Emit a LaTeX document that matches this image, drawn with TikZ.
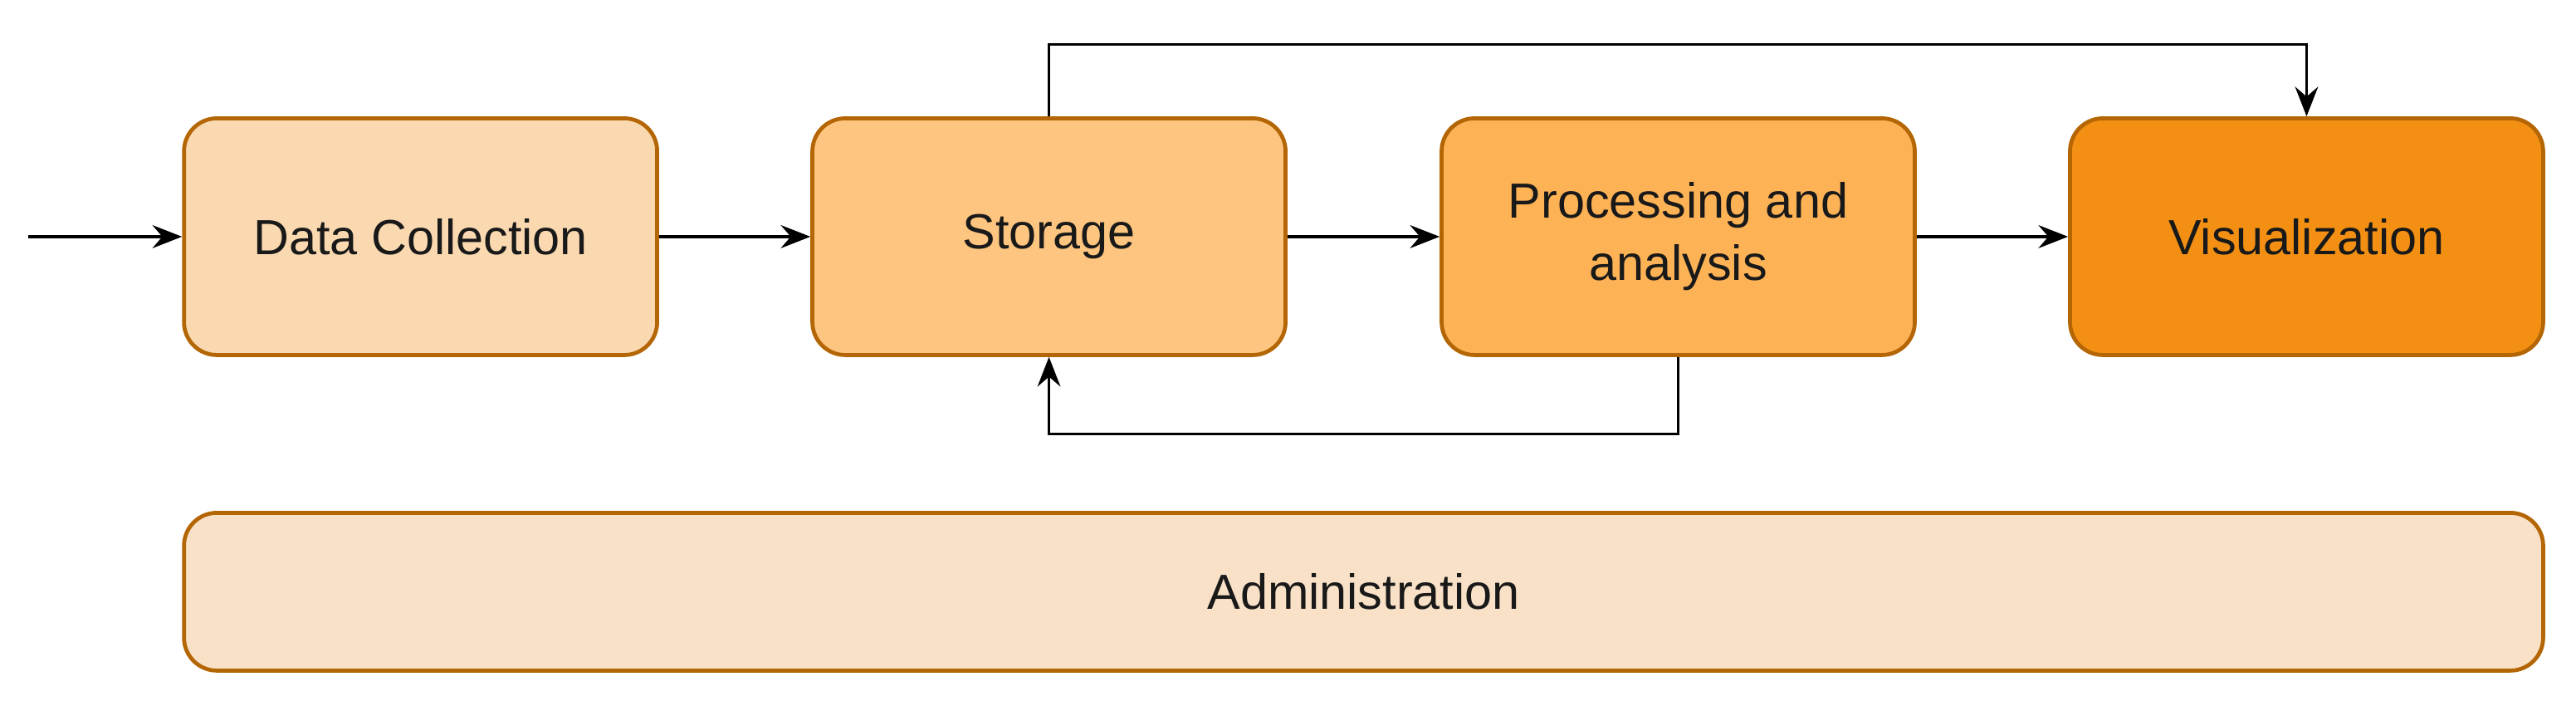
\documentclass[tikz,border=0pt]{standalone}
\usepackage{fontspec}
\setmainfont{Liberation Sans}
\usetikzlibrary{arrows.meta}
\definecolor{bd}{HTML}{B46504}
\definecolor{c1}{HTML}{FAD9B1}
\definecolor{c2}{HTML}{FDC57F}
\definecolor{c3}{HTML}{FDB256}
\definecolor{c4}{HTML}{F39014}
\definecolor{c5}{HTML}{F8E1C6}
\begin{document}
\begin{tikzpicture}[x=0.5pt,y=-0.5pt,
  box/.style={draw=bd,line width=1.2pt,rounded corners=10pt,minimum width=144pt,minimum height=72pt,align=center,font=\fontsize{15}{19}\selectfont,text=black!90},
  arr/.style={-{Stealth[length=9pt,width=7pt,inset=3pt]},line width=0.9pt}]
\useasboundingbox (0,0) rectangle (1568,426);
\node[box,fill=c1] (dc) at (256,144) {Data Collection};
\node[box,fill=c2] (st) at (638.5,144) {Storage};
\node[box,fill=c3] (pa) at (1021.5,144) {Processing and\\analysis};
\node[box,fill=c4] (vi) at (1404,144) {Visualization};
\node[box,fill=c5,minimum width=718pt,minimum height=48pt] (ad) at (830,360) {Administration};
\coordinate (in) at (17,144);
\draw[arr] (in) -- (dc);
\draw[arr] (dc) -- (st);
\draw[arr] (st) -- (pa);
\draw[arr] (pa) -- (vi);
\draw[arr] (st.north) -- (638.5,27) -| (vi.north);
\draw[arr] (pa.south) -- (1021.5,264) -| (st.south);
\end{tikzpicture}
\end{document}
